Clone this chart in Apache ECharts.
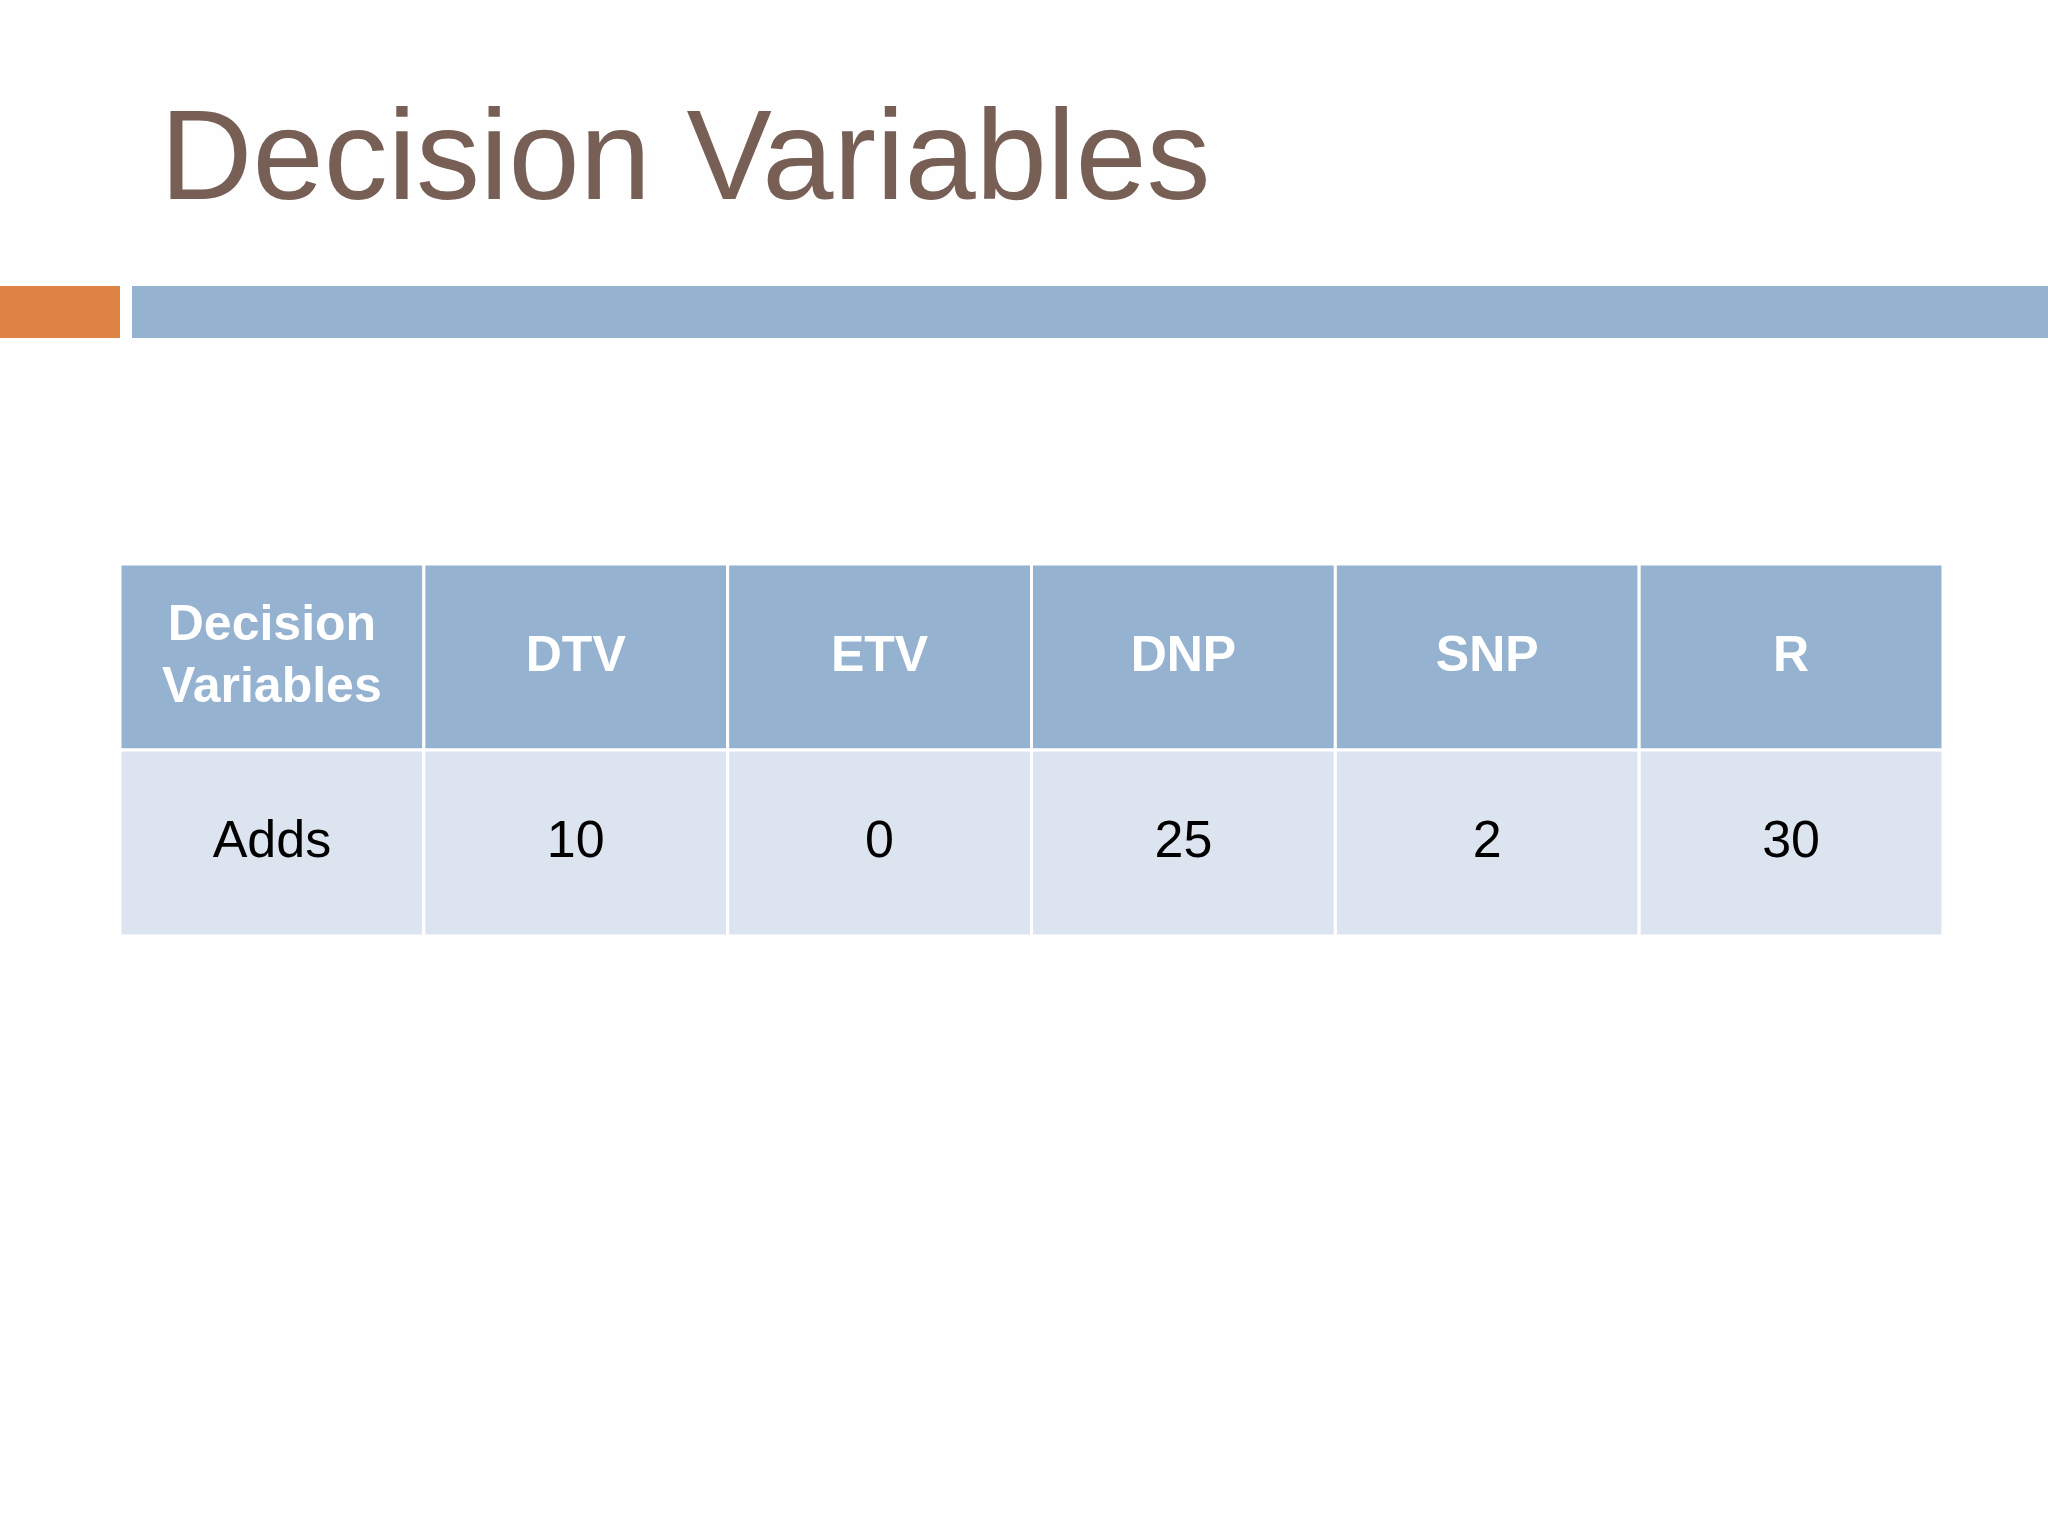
<!DOCTYPE html>
<html><head><meta charset="utf-8">
<script src="https://cdn.jsdelivr.net/npm/echarts@6/dist/echarts.min.js"></script>
<style>html,body{margin:0;background:#fefefe}#c{width:2048px;height:1536px}</style>
</head><body><div id="c"></div>
<script>
const columns = ['Decision\nVariables', 'DTV', 'ETV', 'DNP', 'SNP', 'R'];
const rows = ['header', 'Adds'];
const rowValues = ['Adds', '10', '0', '25', '2', '30'];

const data = [];
columns.forEach((c, i) => {
  data.push([i, 0, c, 'h']);
  data.push([i, 1, rowValues[i], 'b']);
});

const chart = echarts.init(document.getElementById('c'));
chart.setOption({
  backgroundColor: '#fefefe',
  animation: false,
  title: {
    text: 'Decision Variables', left: 155, top: 95,
    textStyle: { fontFamily: 'Liberation Sans', fontSize: 128, fontWeight: 'normal', color: '#775F55' }
  },
  graphic: [
    { type: 'rect', shape: { x: 0, y: 286, width: 120, height: 52 }, style: { fill: '#DE8344' } },
    { type: 'rect', shape: { x: 132, y: 286, width: 1916, height: 52 }, style: { fill: '#95B3D0' } }
  ],
  grid: { left: 120, right: 105, top: 564, bottom: 600 },
  xAxis: { type: 'category', data: columns, show: false },
  yAxis: { type: 'category', data: rows, inverse: true, show: false },
  series: [{
    type: 'custom',
    data: data,
    renderItem: function (params, api) {
      const p = api.coord([api.value(0), api.value(1)]);
      const s = api.size([1, 1]);
      const hdr = api.value(3) === 'h';
      const x = p[0] - s[0] / 2, y = p[1] - s[1] / 2;
      return {
        type: 'group',
        children: [
          { type: 'rect', shape: { x: x, y: y, width: s[0], height: s[1] },
            style: { fill: hdr ? '#95B3D0' : '#DCE5EF', stroke: '#ffffff', lineWidth: hdr ? 3 : 3 } },
          { type: 'text', style: {
              x: p[0], y: p[1], text: api.value(2), align: 'center', verticalAlign: 'middle',
              fontFamily: 'Liberation Sans', fontSize: hdr ? 50 : 52, lineHeight: 62,
              fontWeight: hdr ? 'bold' : 'normal', fill: hdr ? '#ffffff' : '#000000' } }
        ]
      };
    }
  }]
});
</script></body></html>
